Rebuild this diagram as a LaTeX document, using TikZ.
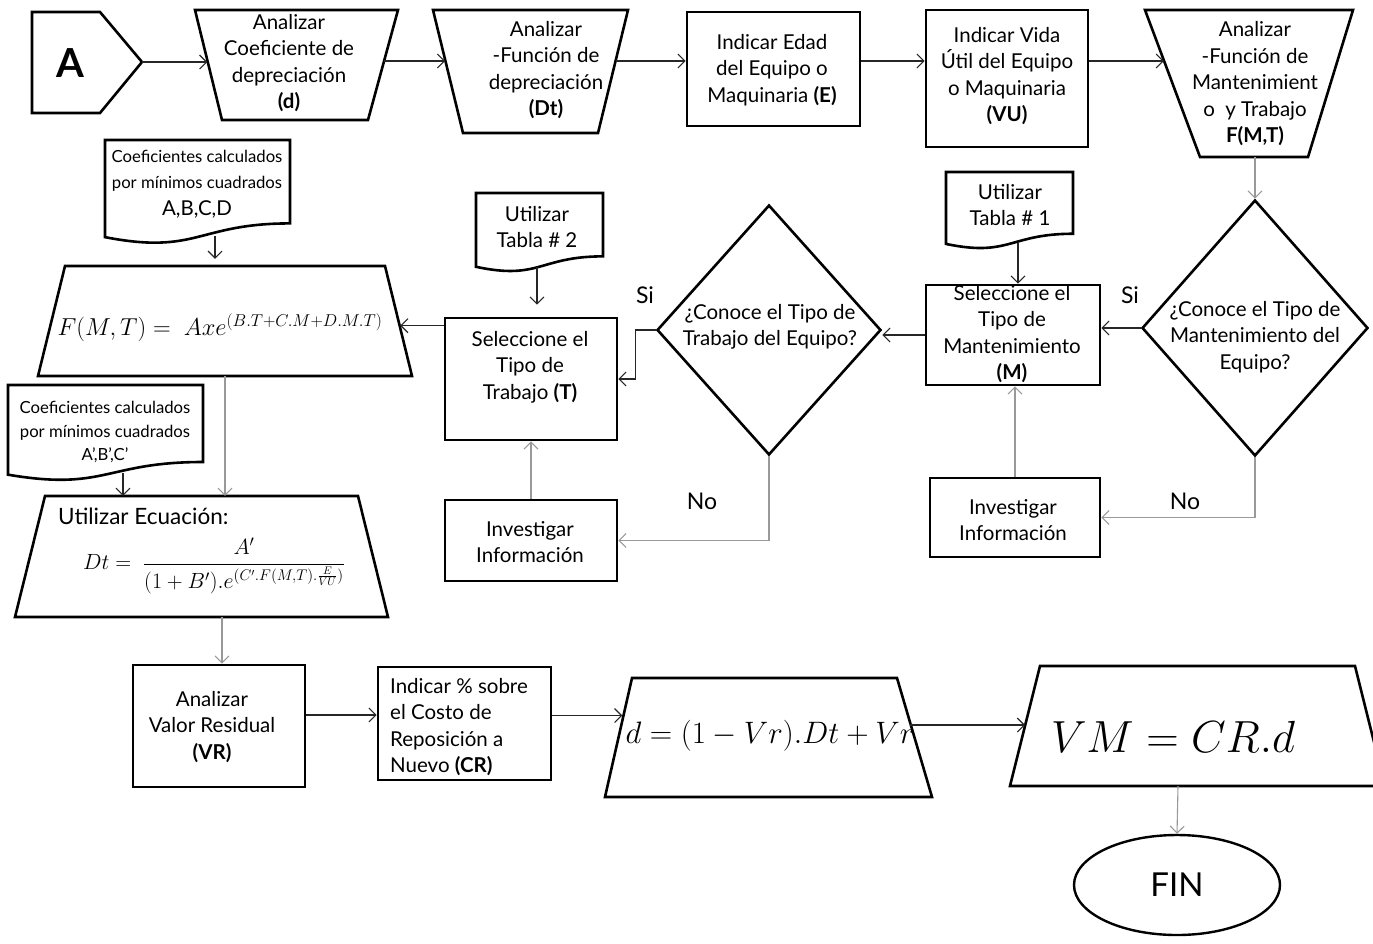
\RequirePackage{fix-cm}
\documentclass[tikz,border=0pt]{standalone}
\usepackage{amsmath}
\usepackage{fontspec}
\setmainfont{Lato}
\usetikzlibrary{arrows.meta,shapes.geometric}
\newcommand\fs{\fontsize{20.5}{26.5}\selectfont}
\newcommand\fsm{\fontsize{16.7}{23.5}\selectfont}
% document symbol with a wavy bottom edge: left x, top y, right x, height
\newcommand\docshape[4]{\draw[shp] (#1,#2) -- (#3,#2) -- (#3,{#2+0.802*#4})
  .. controls ({(#1+#3)/2},{#2+0.802*#4}) and ({(#1+#3)/2},{#2+1.107*#4}) .. (#1,{#2+0.934*#4}) -- cycle;}

\begin{document}
\begin{tikzpicture}[x=1pt,y=-1pt,
  shp/.style={draw, line width=2.6pt, line join=miter},
  box/.style={draw, line width=2.6pt, inner sep=0pt},
  hold/.style={draw=none, inner sep=0pt},
  txt/.style={align=center, inner sep=0pt, font=\fs},
  lbl/.style={inner sep=0pt, font=\fontsize{23}{26}\selectfont},
  dia/.style={diamond, draw, line width=2.6pt, inner sep=0pt},
  arr/.style={draw=black!85, line width=1.1pt,
    -{Straight Barb[length=7pt,width=14pt,line width=1.1pt]}},
  garr/.style={arr, draw=black!40}]
\useasboundingbox (0,0) rectangle (1373,943);

% ---------- top row ----------
\draw[shp] (32,12) -- (100,12) -- (142,62) -- (100,113) -- (32,113) -- cycle;
\node[inner sep=0pt, font=\fontsize{40}{40}\selectfont\bfseries] (A) at (70,63) {A};
\coordinate (Atip) at (142,62);

\draw[shp] (195,10) -- (398,10) -- (368,120) -- (222,120) -- cycle;
\node[hold, minimum width=176.6, minimum height=110] (b1) at (295.8,61) {};
\node[txt] (b1t) at (289,63) {Analizar\\Coeficiente de\\depreciación\\\textbf{(d)}};

\draw[shp] (433,10) -- (628,10) -- (598,133) -- (463,133) -- cycle;
\node[hold, minimum width=170.2, minimum height=110] (b2) at (530.5,61) {};
\node[txt] (b2t) at (546,70) {Analizar\\-Función de\\depreciación\\\textbf{(Dt)}};

\node[box, minimum width=173, minimum height=114] (b3) at (773.5,69) {};
\node[txt] (b3t) at (772,70) {Indicar Edad\\del Equipo o\\Maquinaria \textbf{(E)}};

\node[box, minimum width=162, minimum height=137] (b4) at (1007,78.5) {};
\node[txt] (b4t) at (1007,76) {Indicar Vida\\Útil del Equipo\\o Maquinaria\\\textbf{(VU)}};

\draw[shp] (1145,10) -- (1353,10) -- (1308,157) -- (1200,157) -- cycle;
\node[hold, minimum width=173.3, minimum height=110] (b5) at (1250.8,61) {};
\node[txt] (b5t) at (1255,84) {Analizar\\-Función de\\Mantenimient\\o~ y Trabajo\\\textbf{F(M,T)}};
\coordinate (b5s) at (1255,157);

\draw[arr] (Atip) -- (Atip -| b1.west);
\draw[arr] (b1.east) -- (b1.east -| b2.west);
\draw[arr] (b2.east) -- (b2.east -| b3.west);
\draw[arr] ([yshift=8pt]b3.east) -- ([yshift=8pt]b3.east -| b4.west);
\draw[arr] ([yshift=17.5pt]b4.east) -- (b5.west);

% ---------- maintenance decision ----------
\node[dia, minimum width=226, minimum height=256] (d2) at (1255,328) {};
\node[txt] (d2t) at (1255,337) {¿Conoce el Tipo de\\Mantenimiento del\\Equipo?};
\draw[garr] (b5s) -- (d2.north);

\node[box, minimum width=174, minimum height=100] (bM) at (1013,335) {};
\node[txt] (bMt) at (1012,334) {Seleccione el\\Tipo de\\Mantenimiento\\\textbf{(M)}};

\docshape{946}{172}{1073}{77}
\node[txt] (dc1) at (1010,205) {Utilizar\\Tabla \# 1};
\coordinate (dc1b) at (1018,243);
\draw[arr] (dc1b) -- (dc1b |- bM.north);

\node[box, minimum width=170, minimum height=79] (inv2) at (1015,517.5) {};
\node[txt] (inv2t) at (1013,520) {Investigar\\Información};

\draw[arr] (d2.west) -- (d2.west -| bM.east);
\node[lbl] (si2) at (1130,295) {Si};
\draw[garr] (d2.south) |- (inv2.east);
\node[lbl] (no2) at (1185,501) {No};
\draw[garr] (inv2.north) -- (inv2.north |- bM.south);

% ---------- work type decision ----------
\node[dia, minimum width=224, minimum height=250] (d1) at (769,330) {};
\node[txt] (d1t) at (770,327) {¿Conoce el Tipo de\\Trabajo del Equipo?};
\draw[arr] (bM.west) -- (bM.west -| d1.east);

\node[box, minimum width=172, minimum height=122] (bT) at (531,379) {};
\node[txt] (bTt) at (530,367) {Seleccione el\\Tipo de\\Trabajo \textbf{(T)}};

\docshape{476}{193}{603}{79}
\node[txt] (dc2) at (537,227) {Utilizar\\Tabla \# 2};
\coordinate (dc2b) at (537,267);
\draw[arr, shorten >=12pt] (dc2b) -- (dc2b |- bT.north);

\node[box, minimum width=172, minimum height=81] (inv1) at (531,540.5) {};
\node[txt] (inv1t) at (530,542) {Investigar\\Información};

\draw[arr] (d1.west) -- ++(-20,0) |- (bT.east);
\node[lbl] (si1) at (645,295) {Si};
\draw[garr] (d1.south) |- (inv1.east);
\node[lbl] (no1) at (702,501) {No};
\draw[garr] (inv1.north) -- (inv1.north |- bT.south);

% ---------- F(M,T) ----------
\draw[shp] (65,266) -- (385,266) -- (412,376) -- (38,376) -- cycle;
\node[hold, minimum width=350, minimum height=122] (F) at (225,327) {};
\node[inner sep=0pt, font=\fontsize{24.5}{28}\selectfont] (Ft) at (220,328)
  {$F(M,T) =\ Axe^{(B.T+C.M+D.M.T)}$};
\coordinate (Fs) at (225,376);
\draw[arr] ([yshift=-9pt]bT.north west) -- ([yshift=-9pt]bT.north west -| F.east);

\docshape{105}{140}{290}{104}
\node[txt] (dcA) at (197,184) {{\fsm Coeficientes calculados}\\{\fsm por mínimos cuadrados}\\A,B,C,D};
\coordinate (dcAb) at (215,236);
\draw[arr, shorten >=7pt] (dcAb) -- (dcAb |- F.north);

% ---------- Dt ----------
\draw[shp] (45,496) -- (358,496) -- (388,617) -- (15,617) -- cycle;
\node[hold, minimum width=343, minimum height=121] (Dt) at (201.5,556.5) {};
\node[inner sep=0pt, anchor=west, font=\fontsize{22.5}{24}\selectfont] (Dtl) at (58,516) {Utilizar Ecuación:};
\node[inner sep=0pt, font=\fontsize{22}{24}\selectfont] (Dtf) at (214,566)
  {$Dt =\ \dfrac{A'}{(1+B').e^{(C'.F(M,T).\frac{E}{VU})}}$};
\coordinate (Dts) at (222,617);
\draw[garr] (Fs) -- (Fs |- Dt.north);

\docshape{8}{385}{203}{96}
\node[txt, font=\fsm] (dcB) at (105,432) {Coeficientes calculados\\por mínimos cuadrados\\A',B',C'};
\coordinate (dcBb) at (123,473);
\draw[arr] (dcBb) -- (dcBb |- Dt.north);

% ---------- bottom row ----------
\node[box, minimum width=172, minimum height=122] (bVR) at (219,726) {};
\node[txt] (bVRt) at (212,727) {Analizar\\Valor Residual\\\textbf{(VR)}};
\draw[garr] (Dts) -- (Dts |- bVR.north);

\node[box, minimum width=173, minimum height=113] (bCR) at (464.5,723.5) {};
\node[txt, align=left, anchor=west] (bCRt) at (390,727) {Indicar \% sobre\\el Costo de\\Reposición a\\Nuevo \textbf{(CR)}};

\draw[shp] (632,678) -- (897,678) -- (932,797) -- (605,797) -- cycle;
\node[hold, minimum width=287, minimum height=100] (dN) at (766,720) {};
\node[inner sep=0pt, font=\fontsize{31}{34}\selectfont] (dNt) at (770,736) {$d = (1-Vr).Dt + Vr$};

\draw[shp] (1040,666) -- (1355,666) -- (1385,786) -- (1010,786) -- cycle;
\node[hold, minimum width=344.5, minimum height=100] (VM) at (1197.5,725) {};
\node[inner sep=0pt, font=\fontsize{45}{48}\selectfont] (VMt) at (1173,737) {$VM = CR.d$};
\coordinate (VMs) at (1178,786);

\node[ellipse, draw, line width=2.4pt, minimum width=206, minimum height=100, inner sep=0pt,
  font=\fontsize{33}{34}\selectfont] (fin) at (1177,885) {FIN};

\draw[arr] ([yshift=11pt]bVR.east) -- ([yshift=11pt]bVR.east -| bCR.west);
\draw[arr] ([yshift=8pt]bCR.east) -- ([yshift=8pt]bCR.east -| dN.west);
\draw[arr] ([yshift=-5pt]dN.east) -- ([yshift=-5pt]dN.east -| VM.west);
\draw[garr] (VMs) -- (fin.north);
\end{tikzpicture}
\end{document}
